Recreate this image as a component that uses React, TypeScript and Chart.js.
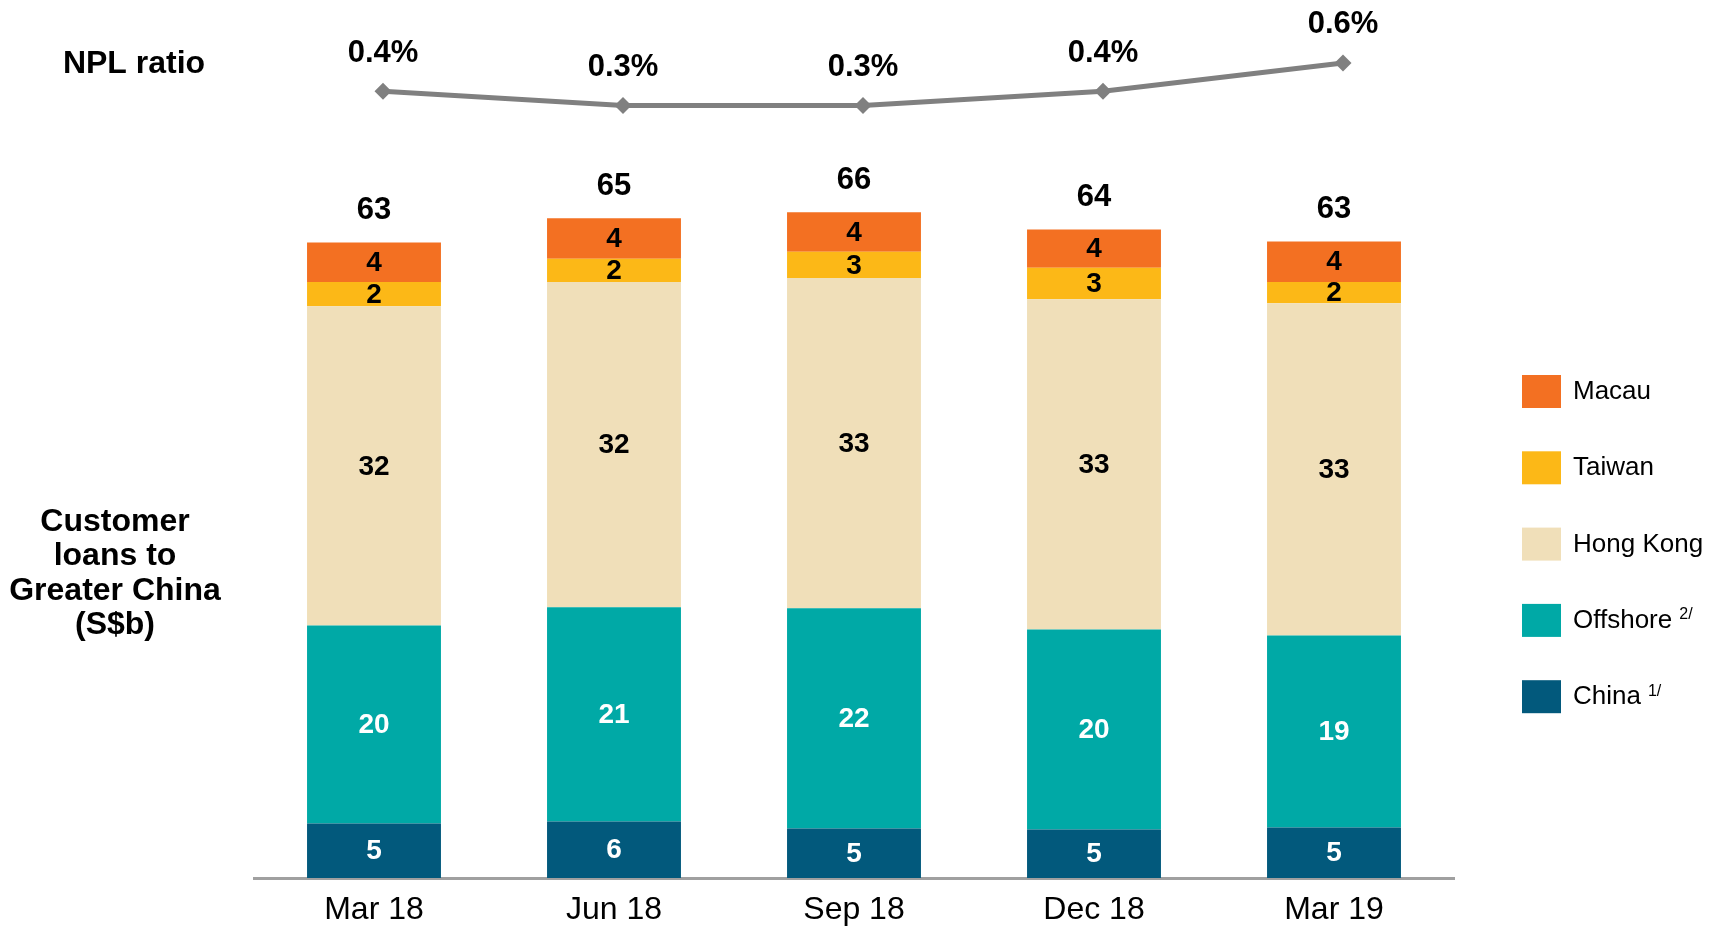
import React, { useEffect, useRef } from "react";
import { Chart, registerables } from "chart.js";

Chart.register(...registerables);

// ---------- data ----------
const categories = ["Mar 18", "Jun 18", "Sep 18", "Dec 18", "Mar 19"];
const seriesNames = ["China", "Offshore", "Hong Kong", "Taiwan", "Macau"];
const seriesNotes = ["1/", "2/", "", "", ""];
const china = [5.4, 5.6, 4.9, 4.8, 5.0];
const offshore = [19.6, 21.2, 21.8, 19.8, 19.0];
const hongKong = [31.6, 32.2, 32.7, 32.7, 32.9];
const taiwan = [2.4, 2.3, 2.6, 3.1, 2.1];
const macau = [3.9, 4.0, 3.9, 3.8, 4.0];
const totals = [63, 65, 66, 64, 63];
const nplRatio = [0.4, 0.3, 0.3, 0.4, 0.6];
const leftTitle = ["Customer", "loans to", "Greater China", "(S$b)"];
const lineTitle = "NPL ratio";

// ---------- styles ----------
const FONT = '"Liberation Sans", Arial, Helvetica, sans-serif';
const seriesColors = ["#02597C", "#00A9A6", "#F0DFB9", "#FCB817", "#F37022"];
const labelColors = ["#FFFFFF", "#FFFFFF", "#000000", "#000000", "#000000"];
const seriesValues = [china, offshore, hongKong, taiwan, macau];
const LINE_SHIFT = 9; // line markers sit slightly right of bar centres in the reference

const overlayPlugin = {
  id: "overlayLabels",
  beforeDatasetDraw(chart: any, args: any) {
    if (args.index === seriesValues.length) {
      chart.ctx.save();
      chart.ctx.translate(LINE_SHIFT, 0);
    }
  },
  afterDatasetDraw(chart: any, args: any) {
    if (args.index === seriesValues.length) chart.ctx.restore();
  },
  afterDatasetsDraw(chart: any) {
    const ctx = chart.ctx;
    ctx.save();
    ctx.textAlign = "center";
    ctx.textBaseline = "middle";
    // segment labels
    seriesValues.forEach((vals, di) => {
      const meta = chart.getDatasetMeta(di);
      meta.data.forEach((el: any, i: number) => {
        const p = el.getProps(["x", "y", "base"], true);
        ctx.fillStyle = labelColors[di];
        ctx.font = `bold 28px ${FONT}`;
        ctx.fillText(String(Math.round(vals[i])), p.x, (p.y + p.base) / 2 + 1);
      });
    });
    // totals
    const topMeta = chart.getDatasetMeta(seriesValues.length - 1);
    topMeta.data.forEach((el: any, i: number) => {
      const p = el.getProps(["x", "y"], true);
      ctx.fillStyle = "#000";
      ctx.font = `bold 31px ${FONT}`;
      ctx.fillText(String(totals[i]), p.x, p.y - 32);
    });
    // NPL labels
    const lineMeta = chart.getDatasetMeta(seriesValues.length);
    lineMeta.data.forEach((el: any, i: number) => {
      const p = el.getProps(["x", "y"], true);
      ctx.fillStyle = "#000";
      ctx.font = `bold 31px ${FONT}`;
      ctx.fillText(nplRatio[i].toFixed(1) + "%", p.x + LINE_SHIFT, p.y - 38);
    });
    ctx.restore();
  },
  afterDraw(chart: any) {
    const ctx = chart.ctx;
    ctx.save();
    // left titles
    ctx.fillStyle = "#000";
    ctx.textAlign = "center";
    ctx.textBaseline = "middle";
    ctx.font = `bold 32px ${FONT}`;
    ctx.fillText(lineTitle, 134, 64);
    leftTitle.forEach((t, i) => ctx.fillText(t, 115, 522 + i * 34.5));
    // legend (top to bottom = reverse of stack order)
    const order = [4, 3, 2, 1, 0];
    order.forEach((si, k) => {
      const top = 375 + k * 76.3;
      ctx.fillStyle = seriesColors[si];
      ctx.fillRect(1522, top, 39, 33);
      ctx.fillStyle = "#000";
      ctx.textAlign = "left";
      ctx.font = `26px ${FONT}`;
      const tx = 1573;
      const ty = top + 17;
      ctx.fillText(seriesNames[si], tx, ty);
      if (seriesNotes[si]) {
        const w = ctx.measureText(seriesNames[si]).width;
        ctx.font = `16px ${FONT}`;
        ctx.fillText(seriesNotes[si], tx + w + 7, ty - 6);
      }
    });
    ctx.restore();
  },
};

export default function App() {
  const ref = useRef<HTMLCanvasElement | null>(null);
  useEffect(() => {
    if (!ref.current) return;
    const barSets = seriesValues.map((vals, i) => ({
      type: "bar" as const,
      label: seriesNames[i],
      data: vals,
      backgroundColor: seriesColors[i],
      borderWidth: 0,
      categoryPercentage: 1,
      barPercentage: 0.558,
      grouped: false,
      yAxisID: "y",
      order: 2,
    }));
    const chart = new Chart(ref.current, {
      type: "bar",
      data: {
        labels: categories,
        datasets: [
          ...barSets,
          {
            type: "line" as const,
            label: lineTitle,
            data: nplRatio,
            yAxisID: "y2",
            borderColor: "#808080",
            borderWidth: 5,
            pointStyle: "rectRot",
            pointRadius: 8.5,
            pointBackgroundColor: "#808080",
            pointBorderWidth: 0,
            tension: 0,
            order: 1,
          } as any,
        ],
      },
      options: {
        responsive: false,
        animation: false,
        layout: { padding: { left: 254, right: 265, top: 0, bottom: 0 } },
        plugins: { legend: { display: false }, tooltip: { enabled: false } },
        scales: {
          x: {
            stacked: true,
            offset: true,
            grid: { display: false, drawTicks: false },
            border: { display: true, color: "#A0A0A0", width: 3 },
            ticks: { font: { family: FONT, size: 32 }, color: "#000", padding: 13 },
            afterFit: (s: any) => {
              s.height = 49;
            },
          },
          y: { stacked: true, display: false, min: 0, max: 86.07 },
          y2: { type: "linear", display: false, stacked: false, min: -5.1495, max: 0.984 },
        },
      } as any,
      plugins: [overlayPlugin],
    });
    return () => chart.destroy();
  }, []);
  return (
    <div style={{ position: "fixed", left: 0, top: 0, width: 1719, height: 927, background: "#fff", overflow: "hidden" }}>
      <canvas ref={ref} width={1719} height={927} style={{ display: "block", width: 1719, height: 927 }} />
    </div>
  );
}
